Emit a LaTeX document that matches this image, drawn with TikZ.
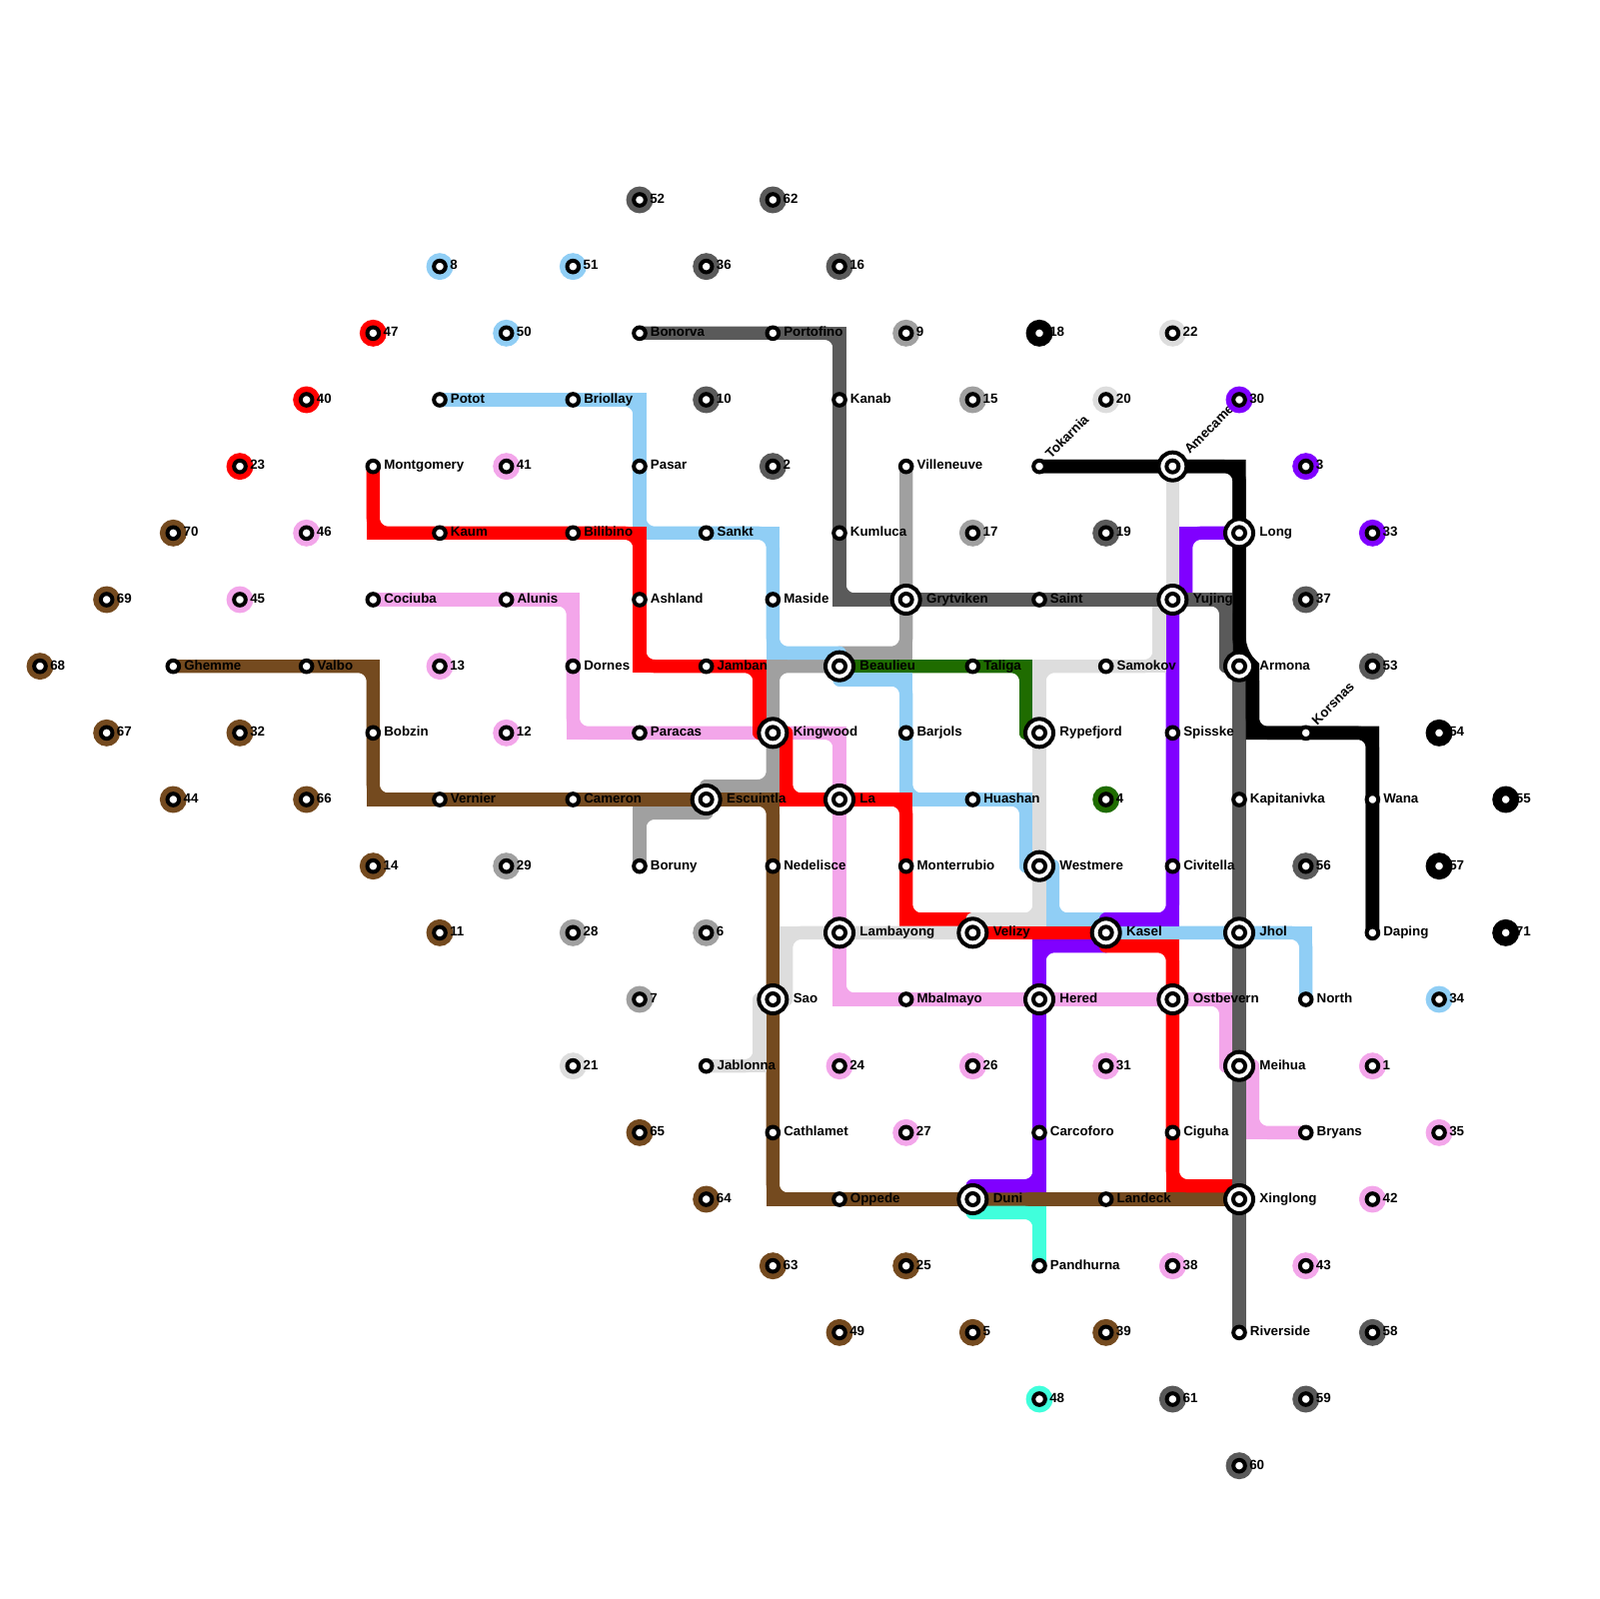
\documentclass[tikz,border=0pt]{standalone}
\usepackage{fontspec}
\setmainfont{Liberation Sans}
\usetikzlibrary{backgrounds}
\definecolor{cRed}{HTML}{FF0000}
\definecolor{cPurple}{HTML}{8000FF}
\definecolor{cBlue}{HTML}{90CEF5}
\definecolor{cPink}{HTML}{F3A6EA}
\definecolor{cBrown}{HTML}{744A1F}
\definecolor{cGreen}{HTML}{1F6C00}
\definecolor{cTurq}{HTML}{40FFDC}
\definecolor{cPale}{HTML}{DDDDDD}
\definecolor{cGray}{HTML}{A0A0A0}
\definecolor{cDark}{HTML}{5A5A5A}
\newcommand{\metroline}[2]{\draw[metro=#1] #2; \draw[metro=#1, rounded corners=.225cm] #2;}

\begin{document}
\begin{tikzpicture}[
    metro/.style={draw=#1, line width=.2cm, line cap=round, line join=miter},
    lbl/.style={font=\bfseries\fontsize{5.69}{6}\selectfont, inner sep=0pt, text height=.1cm, text depth=0pt},
    ring/.style={circle, draw=black, fill=white, line width=.06cm, inner sep=0pt, minimum size=.174cm},
    stop/.style={ring, label={[lbl, label distance=.04cm]right:#1}},
    tilt/.style={ring, label={[lbl, rotate=45, anchor=west, xshift=.04cm, yshift=-.03cm, label distance=.05cm]45:#1}},
    iso/.style 2 args={ring, preaction={draw=#1, line width=.226cm}, label={[lbl, label distance=.03cm]right:#2}},
    bull/.style={ring, minimum size=.42cm,
        path picture={\draw[line width=.06cm] (path picture bounding box.center) circle (.09cm);}},
    hub/.style={bull, label={[lbl, label distance=.06cm]right:#1}}
]
    \useasboundingbox (-.6,0) rectangle (23.4,-24);

    % Interchanges
    \node[hub=Kingwood] (Kingwood) at (11,-11) {};
    \node[hub=Beaulieu] (Beaulieu) at (12,-10) {};
    \node[hub=Grytviken] (Grytviken) at (13,-9) {};
    \node[hub=Escuintla] (Escuintla) at (10,-12) {};
    \node[hub=La] (La) at (12,-12) {};
    \node[hub=Lambayong] (Lambayong) at (12,-14) {};
    \node[hub=Velizy] (Velizy) at (14,-14) {};
    \node[hub=Sao] (Sao) at (11,-15) {};
    \node[hub=Rypefjord] (Rypefjord) at (15,-11) {};
    \node[hub=Westmere] (Westmere) at (15,-13) {};
    \node[hub=Kasel] (Kasel) at (16,-14) {};
    \node[hub=Hered] (Hered) at (15,-15) {};
    \node[hub=Ostbevern] (Ostbevern) at (17,-15) {};
    \node[bull, label={[lbl, rotate=45, anchor=west, xshift=.04cm, yshift=-.03cm, label distance=.03cm]45:Amecameca}] (Amecameca) at (17,-7) {};
    \node[hub=Long] (Long) at (18,-8) {};
    \node[hub=Yujing] (Yujing) at (17,-9) {};
    \node[hub=Armona] (Armona) at (18,-10) {};
    \node[hub=Jhol] (Jhol) at (18,-14) {};
    \node[hub=Meihua] (Meihua) at (18,-16) {};
    \node[hub=Xinglong] (Xinglong) at (18,-18) {};
    \node[hub=Duni] (Duni) at (14,-18) {};

    % Stops
    \node[stop=Ghemme] (Ghemme) at (2,-10) {};
    \node[stop=Valbo] (Valbo) at (4,-10) {};
    \node[stop=Bobzin] (Bobzin) at (5,-11) {};
    \node[stop=Vernier] (Vernier) at (6,-12) {};
    \node[stop=Cameron] (Cameron) at (8,-12) {};
    \node[stop=Montgomery] (Montgomery) at (5,-7) {};
    \node[stop=Kaum] (Kaum) at (6,-8) {};
    \node[stop=Bilibino] (Bilibino) at (8,-8) {};
    \node[stop=Cociuba] (Cociuba) at (5,-9) {};
    \node[stop=Alunis] (Alunis) at (7,-9) {};
    \node[stop=Dornes] (Dornes) at (8,-10) {};
    \node[stop=Paracas] (Paracas) at (9,-11) {};
    \node[stop=Potot] (Potot) at (6,-6) {};
    \node[stop=Briollay] (Briollay) at (8,-6) {};
    \node[stop=Pasar] (Pasar) at (9,-7) {};
    \node[stop=Sankt] (Sankt) at (10,-8) {};
    \node[stop=Ashland] (Ashland) at (9,-9) {};
    \node[stop=Jamban] (Jamban) at (10,-10) {};
    \node[stop=Maside] (Maside) at (11,-9) {};
    \node[stop=Bonorva] (Bonorva) at (9,-5) {};
    \node[stop=Portofino] (Portofino) at (11,-5) {};
    \node[stop=Kanab] (Kanab) at (12,-6) {};
    \node[stop=Kumluca] (Kumluca) at (12,-8) {};
    \node[stop=Villeneuve] (Villeneuve) at (13,-7) {};
    \node[stop=Barjols] (Barjols) at (13,-11) {};
    \node[stop=Monterrubio] (Monterrubio) at (13,-13) {};
    \node[stop=Huashan] (Huashan) at (14,-12) {};
    \node[stop=Taliga] (Taliga) at (14,-10) {};
    \node[tilt=Tokarnia] (Tokarnia) at (15,-7) {};
    \node[stop=Saint] (Saint) at (15,-9) {};
    \node[stop=Samokov] (Samokov) at (16,-10) {};
    \node[stop=Spisske] (Spisske) at (17,-11) {};
    \node[stop=Civitella] (Civitella) at (17,-13) {};
    \node[stop=Kapitanivka] (Kapitanivka) at (18,-12) {};
    \node[tilt=Korsnas] (Korsnas) at (19,-11) {};
    \node[stop=Wana] (Wana) at (20,-12) {};
    \node[stop=Daping] (Daping) at (20,-14) {};
    \node[stop=North] (North) at (19,-15) {};
    \node[stop=Bryans] (Bryans) at (19,-17) {};
    \node[stop=Boruny] (Boruny) at (9,-13) {};
    \node[stop=Nedelisce] (Nedelisce) at (11,-13) {};
    \node[stop=Jablonna] (Jablonna) at (10,-16) {};
    \node[stop=Mbalmayo] (Mbalmayo) at (13,-15) {};
    \node[stop=Cathlamet] (Cathlamet) at (11,-17) {};
    \node[stop=Oppede] (Oppede) at (12,-18) {};
    \node[stop=Carcoforo] (Carcoforo) at (15,-17) {};
    \node[stop=Ciguha] (Ciguha) at (17,-17) {};
    \node[stop=Landeck] (Landeck) at (16,-18) {};
    \node[stop=Pandhurna] (Pandhurna) at (15,-19) {};
    \node[stop=Riverside] (Riverside) at (18,-20) {};

    % Lone stations
    \node[iso={cPink}{1}] (s1) at (20,-16) {};
    \node[iso={cDark}{2}] (s2) at (11,-7) {};
    \node[iso={cPurple}{3}] (s3) at (19,-7) {};
    \node[iso={cGreen}{4}] (s4) at (16,-12) {};
    \node[iso={cBrown}{5}] (s5) at (14,-20) {};
    \node[iso={cGray}{6}] (s6) at (10,-14) {};
    \node[iso={cGray}{7}] (s7) at (9,-15) {};
    \node[iso={cBlue}{8}] (s8) at (6,-4) {};
    \node[iso={cGray}{9}] (s9) at (13,-5) {};
    \node[iso={cDark}{10}] (s10) at (10,-6) {};
    \node[iso={cBrown}{11}] (s11) at (6,-14) {};
    \node[iso={cPink}{12}] (s12) at (7,-11) {};
    \node[iso={cPink}{13}] (s13) at (6,-10) {};
    \node[iso={cBrown}{14}] (s14) at (5,-13) {};
    \node[iso={cGray}{15}] (s15) at (14,-6) {};
    \node[iso={cDark}{16}] (s16) at (12,-4) {};
    \node[iso={cGray}{17}] (s17) at (14,-8) {};
    \node[iso={black}{18}] (s18) at (15,-5) {};
    \node[iso={cDark}{19}] (s19) at (16,-8) {};
    \node[iso={cPale}{20}] (s20) at (16,-6) {};
    \node[iso={cPale}{21}] (s21) at (8,-16) {};
    \node[iso={cPale}{22}] (s22) at (17,-5) {};
    \node[iso={cRed}{23}] (s23) at (3,-7) {};
    \node[iso={cPink}{24}] (s24) at (12,-16) {};
    \node[iso={cBrown}{25}] (s25) at (13,-19) {};
    \node[iso={cPink}{26}] (s26) at (14,-16) {};
    \node[iso={cPink}{27}] (s27) at (13,-17) {};
    \node[iso={cGray}{28}] (s28) at (8,-14) {};
    \node[iso={cGray}{29}] (s29) at (7,-13) {};
    \node[iso={cPurple}{30}] (s30) at (18,-6) {};
    \node[iso={cPink}{31}] (s31) at (16,-16) {};
    \node[iso={cBrown}{32}] (s32) at (3,-11) {};
    \node[iso={cPurple}{33}] (s33) at (20,-8) {};
    \node[iso={cBlue}{34}] (s34) at (21,-15) {};
    \node[iso={cPink}{35}] (s35) at (21,-17) {};
    \node[iso={cDark}{36}] (s36) at (10,-4) {};
    \node[iso={cDark}{37}] (s37) at (19,-9) {};
    \node[iso={cPink}{38}] (s38) at (17,-19) {};
    \node[iso={cBrown}{39}] (s39) at (16,-20) {};
    \node[iso={cRed}{40}] (s40) at (4,-6) {};
    \node[iso={cPink}{41}] (s41) at (7,-7) {};
    \node[iso={cPink}{42}] (s42) at (20,-18) {};
    \node[iso={cPink}{43}] (s43) at (19,-19) {};
    \node[iso={cBrown}{44}] (s44) at (2,-12) {};
    \node[iso={cPink}{45}] (s45) at (3,-9) {};
    \node[iso={cPink}{46}] (s46) at (4,-8) {};
    \node[iso={cRed}{47}] (s47) at (5,-5) {};
    \node[iso={cTurq}{48}] (s48) at (15,-21) {};
    \node[iso={cBrown}{49}] (s49) at (12,-20) {};
    \node[iso={cBlue}{50}] (s50) at (7,-5) {};
    \node[iso={cBlue}{51}] (s51) at (8,-4) {};
    \node[iso={cDark}{52}] (s52) at (9,-3) {};
    \node[iso={cDark}{53}] (s53) at (20,-10) {};
    \node[iso={black}{54}] (s54) at (21,-11) {};
    \node[iso={black}{55}] (s55) at (22,-12) {};
    \node[iso={cDark}{56}] (s56) at (19,-13) {};
    \node[iso={black}{57}] (s57) at (21,-13) {};
    \node[iso={cDark}{58}] (s58) at (20,-20) {};
    \node[iso={cDark}{59}] (s59) at (19,-21) {};
    \node[iso={cDark}{60}] (s60) at (18,-22) {};
    \node[iso={cDark}{61}] (s61) at (17,-21) {};
    \node[iso={cDark}{62}] (s62) at (11,-3) {};
    \node[iso={cBrown}{63}] (s63) at (11,-19) {};
    \node[iso={cBrown}{64}] (s64) at (10,-18) {};
    \node[iso={cBrown}{65}] (s65) at (9,-17) {};
    \node[iso={cBrown}{66}] (s66) at (4,-12) {};
    \node[iso={cBrown}{67}] (s67) at (1,-11) {};
    \node[iso={cBrown}{68}] (s68) at (0,-10) {};
    \node[iso={cBrown}{69}] (s69) at (1,-9) {};
    \node[iso={cBrown}{70}] (s70) at (2,-8) {};
    \node[iso={black}{71}] (s71) at (22,-14) {};

    \begin{scope}[on background layer]
        % Grey
        \metroline{cGray}{(Villeneuve.center) -- (Grytviken.center) -- (13,-9.8) -- (12,-9.8)}
        \metroline{cGray}{(Beaulieu.center) -- (11,-10) -- (Kingwood.center) -- (11,-11.8) -- (10,-11.8)}
        \metroline{cGray}{(10,-12.2) -- (9,-12.2) -- (Boruny.center)}
        % Green
        \metroline{cGreen}{(Beaulieu.center) -- (Taliga.center) -- (14.8,-10) -- (14.8,-11)}
        % Brown
        \metroline{cBrown}{(Ghemme.center) -- (Valbo.center) -- (5,-10) -- (Bobzin.center) -- (5,-12) -- (Vernier.center) -- (Cameron.center) -- (Escuintla.center) -- (11,-12) -- (Nedelisce.center) -- (Sao.center) -- (Cathlamet.center) -- (11,-18) -- (Oppede.center) -- (Duni.center) -- (Landeck.center) -- (Xinglong.center)}
        % Pink
        \metroline{cPink}{(Cociuba.center) -- (Alunis.center) -- (8,-9) -- (Dornes.center) -- (8,-11) -- (Paracas.center) -- (Kingwood.center) -- (12,-11) -- (La.center) -- (Lambayong.center) -- (12,-15) -- (Mbalmayo.center) -- (Hered.center) -- (Ostbevern.center) -- (17.8,-15) -- (17.8,-16)}
        \metroline{cPink}{(18.2,-16) -- (18.2,-17) -- (Bryans.center)}
        % Blue
        \metroline{cBlue}{(Potot.center) -- (Briollay.center) -- (9,-6) -- (Pasar.center) -- (9,-8) -- (Sankt.center) -- (11,-8) -- (Maside.center) -- (11,-9.8) -- (12,-9.8)}
        \metroline{cBlue}{(12,-10.2) -- (13,-10.2) -- (Barjols.center) -- (13,-12) -- (Huashan.center) -- (14.8,-12) -- (14.8,-13)}
        \metroline{cBlue}{(15.2,-13) -- (15.2,-13.8) -- (16,-13.8)}
        \metroline{cBlue}{(Kasel.center) -- (Jhol.center) -- (19,-14) -- (North.center)}
        % Purple
        \metroline{cPurple}{(Long.center) -- (17.2,-8) -- (17.2,-9)}
        \metroline{cPurple}{(Yujing.center) -- (Spisske.center) -- (Civitella.center) -- (17,-13.8) -- (16,-13.8)}
        \metroline{cPurple}{(16,-14.2) -- (15,-14.2) -- (Hered.center) -- (Carcoforo.center) -- (15,-17.8) -- (14,-17.8)}
        % Red
        \metroline{cRed}{(Montgomery.center) -- (5,-8) -- (Kaum.center) -- (Bilibino.center) -- (9,-8) -- (Ashland.center) -- (9,-10) -- (Jamban.center) -- (10.8,-10) -- (10.8,-11)}
        \metroline{cRed}{(11.2,-11) -- (11.2,-12) -- (La.center) -- (13,-12) -- (Monterrubio.center) -- (13,-13.8) -- (14,-13.8)}
        \metroline{cRed}{(Velizy.center) -- (Kasel.center)}
        \metroline{cRed}{(16,-14.2) -- (17,-14.2) -- (Ostbevern.center) -- (Ciguha.center) -- (17,-17.8) -- (18,-17.8)}
        % Pale
        \metroline{cPale}{(Amecameca.center) -- (Yujing.center)}
        \metroline{cPale}{(16.8,-9) -- (16.8,-10) -- (Samokov.center) -- (15,-10) -- (Rypefjord.center) -- (Westmere.center) -- (15,-13.8) -- (14,-13.8)}
        \metroline{cPale}{(Velizy.center) -- (Lambayong.center) -- (11.2,-14) -- (11.2,-15)}
        \metroline{cPale}{(10.8,-15) -- (10.8,-16) -- (Jablonna.center)}
        % Turquoise
        \metroline{cTurq}{(14,-18.2) -- (15,-18.2) -- (Pandhurna.center)}
        % Dark
        \metroline{cDark}{(Bonorva.center) -- (Portofino.center) -- (12,-5) -- (Kanab.center) -- (Kumluca.center) -- (12,-9) -- (Grytviken.center) -- (Saint.center) -- (Yujing.center) -- (17.8,-9) -- (17.8,-10)}
        \metroline{cDark}{(Armona.center) -- (Kapitanivka.center) -- (Jhol.center) -- (Meihua.center) -- (Xinglong.center) -- (Riverside.center)}
        % Black
        \metroline{black}{(Tokarnia.center) -- (Amecameca.center) -- (18,-7) -- (Long.center) -- (18,-9.8) -- (18.2,-10) -- (18.2,-11) -- (Korsnas.center) -- (20,-11) -- (Wana.center) -- (Daping.center)}
    \end{scope}
\end{tikzpicture}
\end{document}
